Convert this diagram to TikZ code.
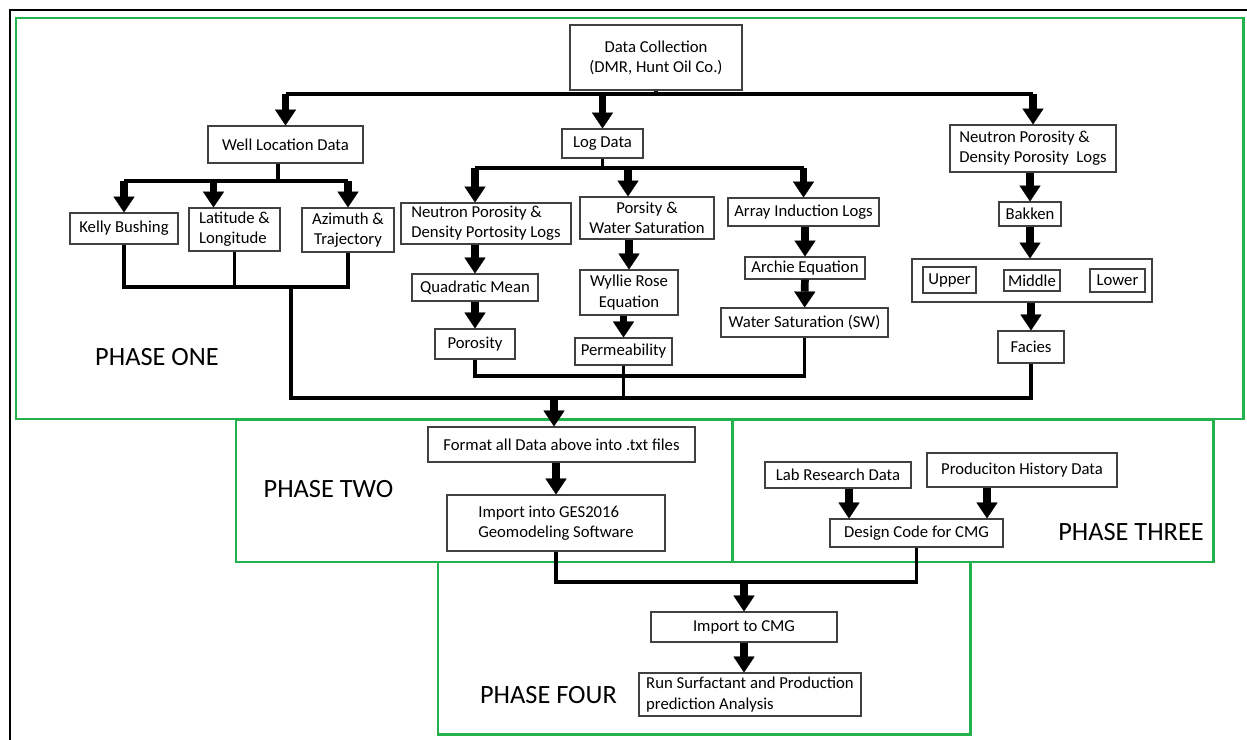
\documentclass[tikz,border=0pt]{standalone}
\usepackage{fontspec}
\setmainfont{Carlito}
\usetikzlibrary{arrows.meta}
\definecolor{phgreen}{RGB}{34,177,76}

\begin{document}
\begin{tikzpicture}[x=0.02cm,y=-0.02cm,
box/.style={draw=black!75,line width=0.7pt,fill=white,align=center,inner sep=1pt,font=\fontsize{9.5}{11.5}\selectfont},
wh/.style 2 args={minimum width=#1*0.02cm,minimum height=#2*0.02cm},
phase/.style={draw=phgreen,line width=1.7pt},
lbl/.style={font=\fontsize{15}{18}\selectfont},
ln/.style={line width=2pt},
arr/.style={line width=4.4pt,-{Triangle[width=12pt,length=9pt,line width=0.1pt]}}]
\useasboundingbox (0,0) rectangle (1247,740);
\draw[line width=1.1pt] (10,740) -- (10,10) -- (1247,10);
% phase frames
\draw[phase] (16,18) rectangle (1243,419);
\draw[phase] (236,420) rectangle (732,562);
\draw[phase] (732,420) rectangle (1213,562);
\draw[phase] (438,562) rectangle (970,734);
% phase one
\node[box,wh={172}{65}] (dc) at (656,57.5) {Data Collection\\(DMR, Hunt Oil Co.)};
\node[box,wh={155}{37}] (wld) at (285.5,144.5) {Well Location Data};
\node[box,wh={81}{29}] (logd) at (602.5,143.5) {Log Data};
\node[box,wh={166}{47},align=left] (npr) at (1033,148.5) {Neutron Porosity \&\\Density Porosity\ \ Logs};
\node[box,wh={108}{31}] (kb) at (124,228.5) {Kelly Bushing};
\node[box,wh={91}{43},align=left] (lat) at (234.5,229.5) {Latitude \&\\Longitude};
\node[box,wh={92}{44}] (az) at (348,230) {Azimuth \&\\Trajectory};
\node[box,wh={170}{41},align=left] (npl) at (486,223.5) {Neutron Porosity \&\\Density Portosity Logs};
\node[box,wh={134}{42}] (ps) at (647,218) {Porsity \&\\Water Saturation};
\node[box,wh={151}{28}] (ail) at (803.5,212) {Array Induction Logs};
\node[box,wh={126}{27}] (qm) at (475,287.5) {Quadratic Mean};
\node[box,wh={80}{30}] (po) at (475,344) {Porosity};
\node[box,wh={98}{45}] (wr) at (629,292.5) {Wyllie Rose\\Equation};
\node[box,wh={97}{27}] (pm) at (623.5,351.5) {Permeability};
\node[box,wh={120}{22}] (ae) at (805,268) {Archie Equation};
\node[box,wh={167}{29}] (ws) at (804.5,322.5) {Water Saturation (SW)};
\node[box,wh={62}{24}] (bk) at (1030,214) {Bakken};
\node[box,wh={240}{43}] (grp) at (1032,280.5) {};
\node[box,wh={53}{26}] (up) at (949.5,280) {Upper};
\node[box,wh={56}{21}] (mid) at (1032,280.5) {Middle};
\node[box,wh={55}{23}] (low) at (1117.5,280.5) {Lower};
\node[box,wh={66}{32}] (fa) at (1031,347) {Facies};
\node[lbl] (p1) at (157,357) {PHASE ONE};
% phase two
\node[box,wh={267}{35}] (fmt) at (561.5,444.5) {Format all Data above into .txt files};
\node[box,wh={218}{56},align=left] (ges) at (556,523) {Import into GES2016\\Geomodeling Software};
\node[lbl] (p2) at (328.5,489) {PHASE TWO};
% phase three
\node[box,wh={146}{26}] (lab) at (838,475) {Lab Research Data};
\node[box,wh={190}{34}] (phd) at (1022,470) {Produciton History Data};
\node[box,wh={173}{28}] (dcm) at (916.5,533) {Design Code for CMG};
\node[lbl] (p3) at (1131,532.5) {PHASE THREE};
% phase four
\node[box,wh={186}{30}] (icmg) at (744,627) {Import to CMG};
\node[box,wh={222}{43},align=left] (run) at (750,694.5) {Run Surfactant and Production\\prediction Analysis};
\node[lbl] (p4) at (548.5,695) {PHASE FOUR};
% junctions
\coordinate (t1) at (656,94); \coordinate (t2) at (278,181); \coordinate (t3) at (600,168);
\coordinate (j1) at (291,287); \coordinate (j2) at (554,398); \coordinate (j3) at (475,376);
\coordinate (j4) at (744,582);
\coordinate (latin) at ([xshift=-0.42cm]lat.north);
\coordinate (nplin) at ([xshift=-0.22cm]npl.north);
\coordinate (psin) at ([xshift=-0.38cm]ps.north);
\coordinate (labout) at ([xshift=0.22cm]lab.south);
\coordinate (phdout) at ([xshift=-0.7cm]phd.south);
% top split
\draw[ln] (dc.south) -- (t1); \draw[ln] (wld.north |- t1) -- (npr.north |- t1);
\draw[arr] (wld.north |- t1) -- (wld.north); \draw[arr] (logd.north |- t1) -- (logd.north); \draw[arr] (npr.north |- t1) -- (npr.north);
% well location
\draw[ln] (wld.south -| t2) -- (t2); \draw[ln] (kb.north |- t2) -- (az.north |- t2);
\draw[arr] (kb.north |- t2) -- (kb.north); \draw[arr] (latin |- t2) -- (latin); \draw[arr] (az.north |- t2) -- (az.north);
% log data
\draw[ln] (logd.south) -- (logd.south |- t3); \draw[ln] (nplin |- t3) -- (ail.north |- t3);
\draw[arr] (nplin |- t3) -- (nplin); \draw[arr] (psin |- t3) -- (psin); \draw[arr] (ail.north |- t3) -- (ail.north);
\draw[arr] (npl.south -| qm.north) -- (qm.north); \draw[arr] (qm) -- (po);
\draw[arr] (ps.south -| wr.north) -- (wr.north); \draw[arr] (wr.south -| pm.north) -- (pm.north);
\draw[arr] (ail.south -| ae.north) -- (ae.north); \draw[arr] (ae) -- (ws);
% bakken column
\draw[arr] (npr.south -| bk.north) -- (bk.north); \draw[arr] (bk.south) -- (bk.south |- grp.north);
\draw[arr] (grp.south -| fa.north) -- (fa.north);
% gather into phase two
\draw[ln] (kb.south) |- (az.south |- j1) -- (az.south); \draw[ln] (lat.south) -- (lat.south |- j1);
\draw[ln] (j1) |- (fa.south |- j2) -- (fa.south);
\draw[ln] (po.south) |- (ws.south |- j3) -- (ws.south); \draw[ln] (pm.south) -- (pm.south |- j2);
\draw[arr] (j2) -- (j2 |- fmt.north);
\draw[arr] (fmt.south -| ges.north) -- (ges.north);
% phase three
\draw[arr] (labout) -- (labout |- dcm.north); \draw[arr] (phdout) -- (phdout |- dcm.north);
% into phase four
\draw[ln] (ges.south) |- (dcm.south |- j4) -- (dcm.south);
\draw[arr] (j4) -- (icmg.north); \draw[arr] (icmg.south) -- (icmg.south |- run.north);
\end{tikzpicture}
\end{document}
